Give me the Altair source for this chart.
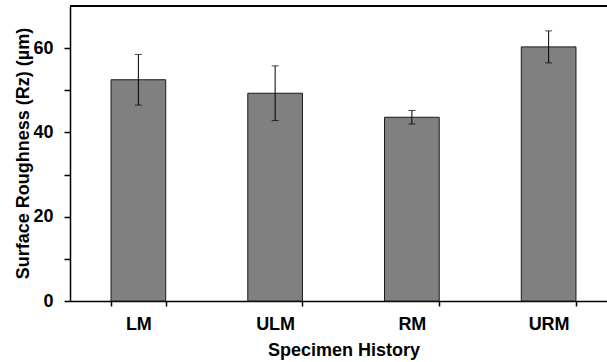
import altair as alt
import pandas as pd

categories = ["LM", "ULM", "RM", "URM"]
means = [52.5, 49.3, 43.6, 60.3]
errors = [6.0, 6.5, 1.6, 3.8]

df = pd.DataFrame({"cat": categories, "mean": means, "err": errors})
df["lo"] = df["mean"] - df["err"]
df["hi"] = df["mean"] + df["err"]

FONT = "Liberation Sans"

x_enc = alt.X(
    "cat:N",
    sort=categories,
    scale=alt.Scale(range=[0, 547], paddingInner=0.6, paddingOuter=0.3),
    axis=alt.Axis(
        title="Specimen History",
        labelAngle=0,
        tickBand="extent",
        tickSize=5,
        tickColor="black",
        tickWidth=1.5,
        domainColor="black",
        domainWidth=1.5,
        labelFont=FONT,
        labelFontSize=18,
        labelFontWeight="bold",
        labelColor="black",
        labelBaseline="alphabetic",
        labelPadding=23,
        titleFont=FONT,
        titleFontSize=18,
        titleFontWeight="bold",
        titleColor="black",
        titleX=273.5,
        titleY=54.5,
        titleAlign="center",
        titleBaseline="alphabetic",
    ),
)

y_scale = alt.Scale(domain=[0, 70], nice=False)
y_axis = alt.Axis(
    title="Surface Roughness (Rz) (µm)",
    values=[0, 10, 20, 30, 40, 50, 60],
    labelExpr="datum.value % 20 == 0 ? datum.label : ''",
    grid=False,
    tickSize=6,
    tickColor="black",
    tickWidth=1.5,
    domainColor="black",
    domainWidth=1.5,
    labelFont=FONT,
    labelFontSize=18,
    labelFontWeight="bold",
    labelColor="black",
    labelPadding=11,
    titleFont=FONT,
    titleFontSize=18,
    titleFontWeight="bold",
    titleColor="black",
    titleX=-42,
    titleY=147,
    titleAngle=270,
    titleAlign="center",
    titleBaseline="alphabetic",
)

base = alt.Chart(df)

bars = base.mark_bar(color="#808080", stroke="#1a1a1a", strokeWidth=1).encode(
    x=x_enc,
    y=alt.Y("mean:Q", scale=y_scale, axis=y_axis),
)

err_rule = base.mark_rule(color="black", strokeWidth=1).encode(
    x=x_enc, y=alt.Y("lo:Q", scale=y_scale), y2="hi:Q"
)
cap_lo = base.mark_tick(color="black", size=7, thickness=1).encode(
    x=x_enc, y=alt.Y("lo:Q", scale=y_scale)
)
cap_hi = base.mark_tick(color="black", size=7, thickness=1).encode(
    x=x_enc, y=alt.Y("hi:Q", scale=y_scale)
)

top_line = alt.Chart(df).mark_rule(color="black", strokeWidth=1.5).encode(
    x=alt.value(0), x2=alt.value(547), y=alt.value(0)
)

chart = (
    alt.layer(bars, err_rule, cap_lo, cap_hi, top_line)
    .properties(
        width=537,
        height=295,
        autosize=alt.AutoSizeParams(type="none"),
        padding={"left": 70, "top": 6, "right": 0, "bottom": 61},
        background="white",
    )
    .configure_view(stroke=None)
)

chart.save("out.html", embed_options={"renderer": "svg", "actions": False})
